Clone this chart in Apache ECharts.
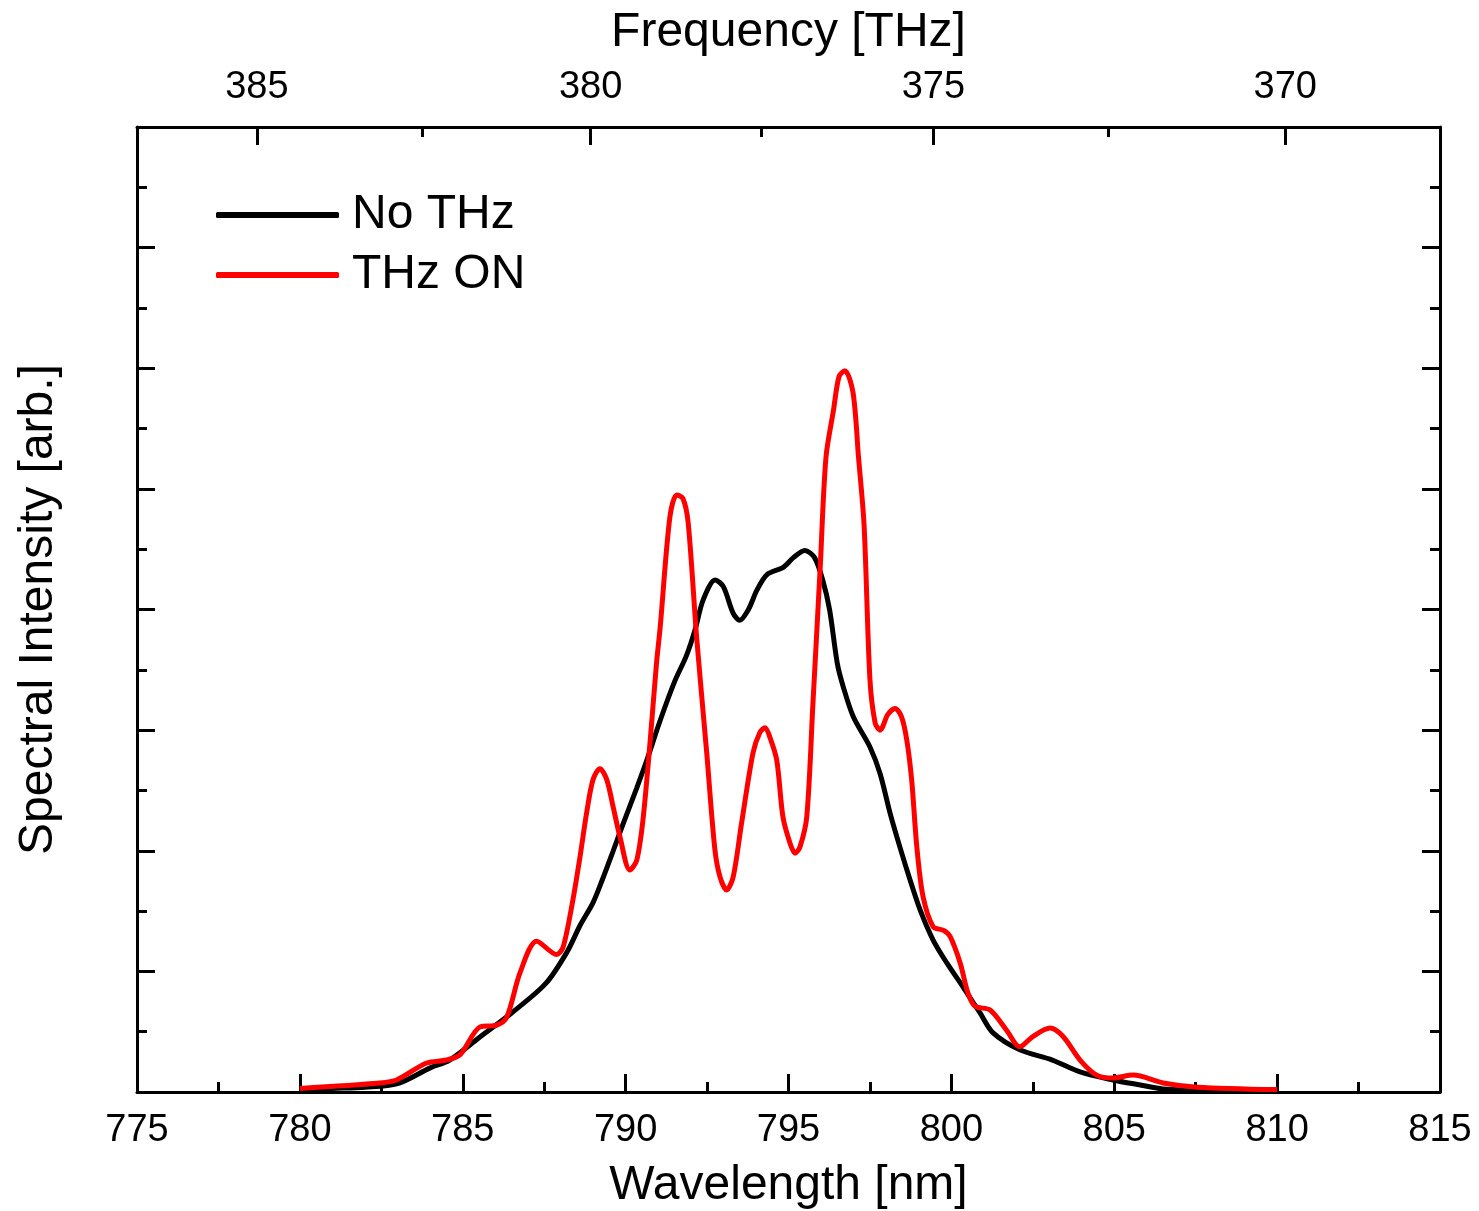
<!DOCTYPE html>
<html>
<head>
<meta charset="utf-8">
<script src="https://cdn.jsdelivr.net/npm/echarts@6/dist/echarts.min.js"></script>
<style>
  html, body { margin: 0; padding: 0; background: #fff; }
  #chart { width: 1479px; height: 1211px; }
</style>
</head>
<body>
<div id="chart"></div>
<script>
// speed of light in nm*THz
const C = 299792.458

const noThzWl = [780, 781, 782, 783, 784, 784.6, 785.5, 786.5, 787.55, 788.2,
  788.6, 789.0, 789.3, 789.62, 789.92, 790.34, 790.65, 791.06, 791.5, 791.87,
  792.13, 792.38, 792.75, 793.0, 793.3, 793.5, 793.77, 794.03, 794.34, 794.84,
  795.15, 795.5, 795.8, 796.05, 796.26, 796.5, 796.68, 796.99, 797.5, 797.81,
  798.12, 798.42, 798.73, 799.04, 799.44, 799.86, 800.36, 800.88, 801.28, 802.1,
  803.1, 803.95, 804.96, 805.8, 806.5, 808, 810]
const noThzVal = [0.02, 0.03, 0.04, 0.07, 0.2, 0.265, 0.45, 0.655, 0.9, 1.16,
  1.38, 1.57, 1.77, 2.0, 2.22, 2.52, 2.75, 3.08, 3.4, 3.62,
  3.83, 4.08, 4.245, 4.19, 3.97, 3.91, 4.0, 4.16, 4.29, 4.35,
  4.43, 4.49, 4.43, 4.245, 4.0, 3.55, 3.36, 3.11, 2.86, 2.64,
  2.31, 2.03, 1.76, 1.51, 1.26, 1.07, 0.87, 0.655, 0.49, 0.35,
  0.265, 0.166, 0.1, 0.058, 0.025, 0.012, 0.01]

const thzOnWl = [780, 782.46, 782.97, 783.89, 784.5, 784.92, 785.53, 786.04, 786.35, 786.76,
  787.27, 787.88, 788.08, 788.38, 788.6, 788.8, 789.0, 789.21, 789.42, 789.62,
  789.83, 790.13, 790.34, 790.53, 790.75, 790.95, 791.06, 791.36, 791.57, 791.76,
  791.92, 792.18, 792.49, 792.74, 792.9, 793.1, 793.3, 793.56, 793.91, 794.12,
  794.28, 794.43, 794.64, 794.83, 795.05, 795.2, 795.35, 795.56, 795.75, 795.97,
  796.15, 796.38, 796.55, 796.73, 796.98, 797.15, 797.32, 797.5, 797.66, 797.81,
  798.05, 798.27, 798.47, 798.63, 798.78, 798.94, 799.13, 799.44, 799.76, 799.96,
  800.27, 800.51, 800.73, 801.19, 801.7, 802.1, 802.5, 803.03, 803.43, 803.95,
  804.46, 804.96, 805.58, 806.5, 807.54, 810]
const thzOnVal = [0.03, 0.075, 0.1, 0.24, 0.265, 0.31, 0.54, 0.555, 0.62, 0.99,
  1.25, 1.14, 1.2, 1.59, 1.95, 2.31, 2.59, 2.68, 2.59, 2.36,
  2.11, 1.84, 1.92, 2.25, 2.9, 3.56, 3.85, 4.77, 4.95, 4.92,
  4.72, 3.77, 2.81, 2.01, 1.78, 1.675, 1.78, 2.23, 2.81, 2.98,
  3.02, 2.94, 2.75, 2.28, 2.06, 1.98, 2.03, 2.28, 3.22, 4.33,
  5.26, 5.65, 5.93, 5.98, 5.8, 5.26, 4.7, 3.42, 3.06, 3.0,
  3.13, 3.18, 3.11, 2.92, 2.59, 2.03, 1.62, 1.37, 1.34, 1.29,
  1.07, 0.82, 0.71, 0.68, 0.51, 0.375, 0.46, 0.53, 0.46, 0.265,
  0.14, 0.116, 0.14, 0.075, 0.04, 0.02]

const freqMajor = [385, 380, 375, 370]
const freqMinor = [382.5, 377.5, 372.5]

const font = "'Liberation Sans', Arial, sans-serif"
const black = '#000'

const zip = (xs, ys) => xs.map((x, i) => [x, ys[i]])
const toWl = f => C / f

const lineAxis = { onZero: false, lineStyle: { color: black, width: 3 } }
const majorTick = (len) => ({ show: true, inside: true, length: len, lineStyle: { color: black, width: 3 } })
const minorTick = { show: true, splitNumber: 2, length: 10, lineStyle: { color: black, width: 3 } }

const chart = echarts.init(document.getElementById('chart'), null, { renderer: 'canvas' })

chart.setOption({
  backgroundColor: '#fff',
  animation: false,
  textStyle: { fontFamily: font },
  grid: { left: 137, right: 39, top: 127, bottom: 119, containLabel: false, outerBoundsMode: 'none' },
  legend: {
    orient: 'vertical',
    left: 211,
    top: 186,
    icon: 'roundRect',
    itemWidth: 123,
    itemHeight: 6,
    itemGap: 12,
    textStyle: { fontSize: 48, color: black, fontFamily: font, padding: [0, 0, 0, 8] },
    data: ['No THz', 'THz ON']
  },
  xAxis: [
    {
      type: 'value',
      position: 'bottom',
      min: 775,
      max: 815,
      interval: 5,
      axisLine: lineAxis,
      axisTick: majorTick(18),
      minorTick: minorTick,
      splitLine: { show: false },
      axisLabel: { fontSize: 38, color: black, margin: 20, fontFamily: font },
      name: 'Wavelength [nm]',
      nameLocation: 'middle',
      nameGap: 70,
      nameTextStyle: { fontSize: 48, color: black, fontFamily: font }
    },
    {
      type: 'value',
      position: 'top',
      min: 775,
      max: 815,
      axisLine: lineAxis,
      axisTick: Object.assign(majorTick(18), { customValues: freqMajor.map(toWl) }),
      splitLine: { show: false },
      axisLabel: {
        customValues: freqMajor.map(toWl),
        formatter: v => String(Math.round(C / v)),
        fontSize: 38, color: black, margin: 20, fontFamily: font
      },
      name: 'Frequency [THz]',
      nameLocation: 'middle',
      nameGap: 70,
      nameTextStyle: { fontSize: 48, color: black, fontFamily: font }
    },
    {
      type: 'value',
      position: 'top',
      min: 775,
      max: 815,
      axisLine: { show: false, onZero: false },
      axisTick: Object.assign(majorTick(10), { customValues: freqMinor.map(toWl) }),
      axisLabel: { show: false },
      splitLine: { show: false }
    }
  ],
  yAxis: [
    {
      type: 'value',
      position: 'left',
      min: 0,
      max: 8,
      interval: 1,
      axisLine: Object.assign({ show: true }, lineAxis),
      axisTick: majorTick(18),
      minorTick: minorTick,
      axisLabel: { show: false },
      splitLine: { show: false },
      name: 'Spectral Intensity [arb.]',
      nameLocation: 'middle',
      nameGap: 74,
      nameTextStyle: { fontSize: 48, color: black, fontFamily: font }
    },
    {
      type: 'value',
      position: 'right',
      min: 0,
      max: 8,
      interval: 1,
      axisLine: Object.assign({ show: true }, lineAxis),
      axisTick: majorTick(18),
      minorTick: minorTick,
      axisLabel: { show: false },
      splitLine: { show: false }
    }
  ],
  series: [
    {
      name: 'No THz',
      type: 'line',
      xAxisIndex: 0,
      yAxisIndex: 0,
      symbol: 'none',
      smooth: 0.3,
      lineStyle: { color: black, width: 5 },
      itemStyle: { color: black },
      data: zip(noThzWl, noThzVal)
    },
    {
      name: 'THz ON',
      type: 'line',
      xAxisIndex: 0,
      yAxisIndex: 0,
      symbol: 'none',
      smooth: 0.3,
      lineStyle: { color: '#ff0000', width: 5 },
      itemStyle: { color: '#ff0000' },
      data: zip(thzOnWl, thzOnVal)
    }
  ]
})
</script>
</body>
</html>
